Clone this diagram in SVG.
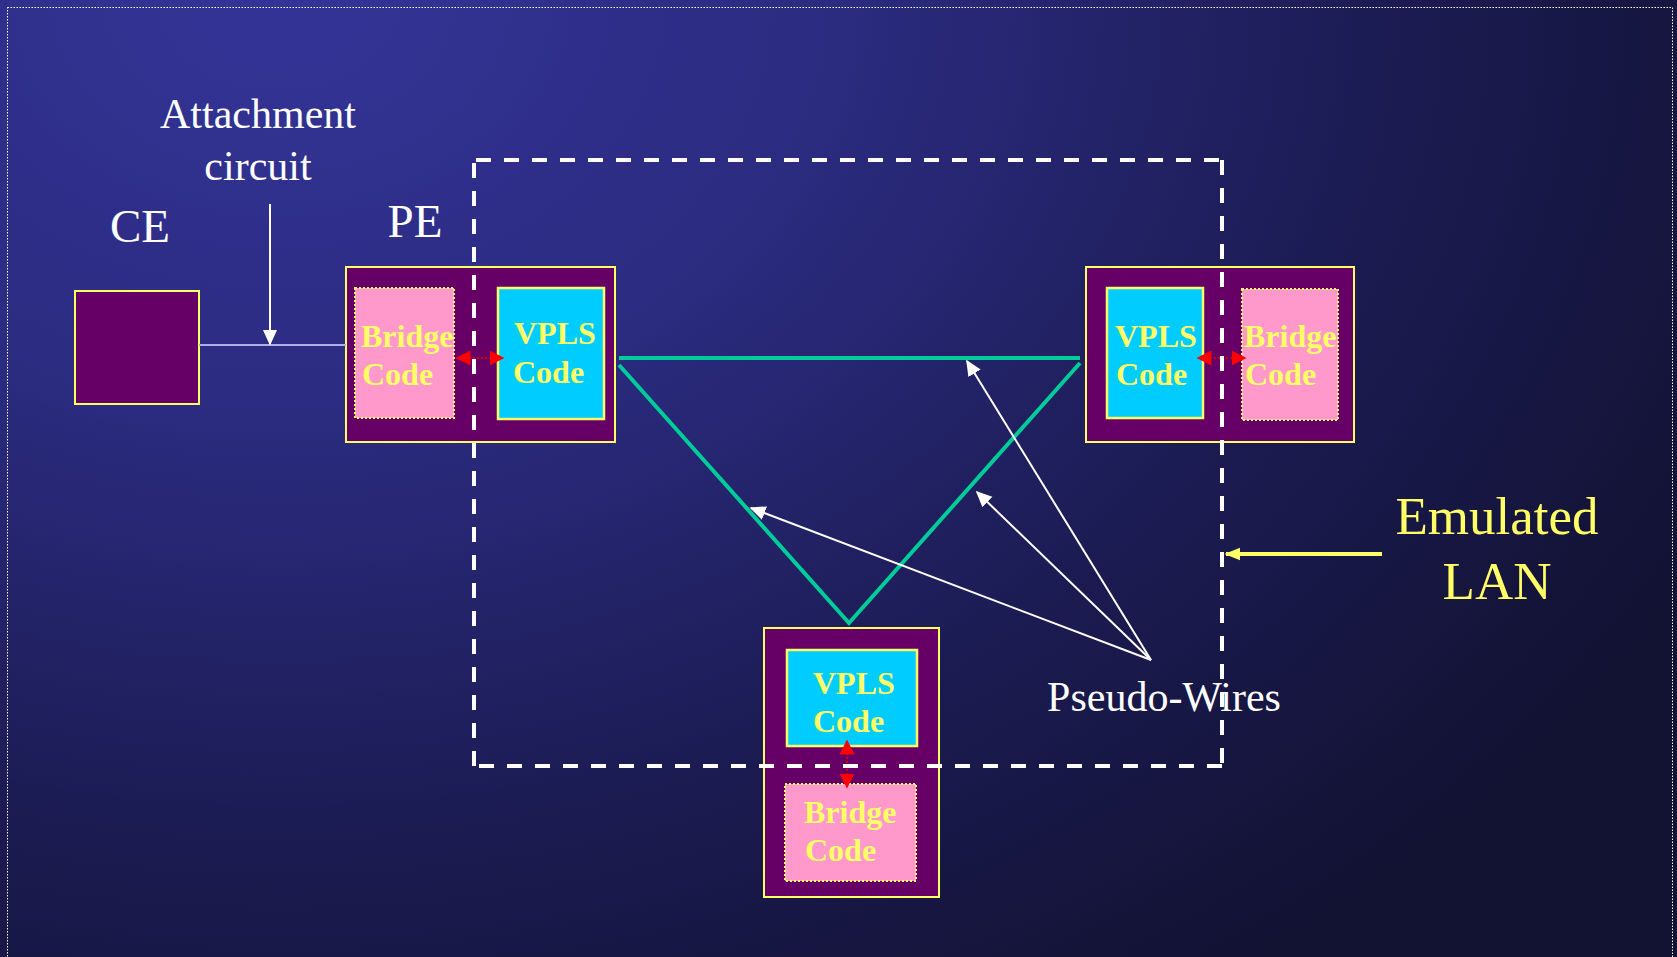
<svg xmlns="http://www.w3.org/2000/svg" width="1677" height="957" viewBox="0 0 1677 957">
<defs>
<radialGradient id="bg" gradientUnits="userSpaceOnUse" cx="280" cy="0" r="1600" gradientTransform="translate(280 0) scale(1 0.75) translate(-280 0)">
<stop offset="0" stop-color="#343498"/>
<stop offset="0.35" stop-color="#2b2b80"/>
<stop offset="0.7" stop-color="#1b1b52"/>
<stop offset="1" stop-color="#121233"/>
</radialGradient>
<marker id="aw" viewBox="0 0 10 10" refX="9" refY="5" markerWidth="16" markerHeight="16" markerUnits="userSpaceOnUse" orient="auto">
<path d="M0,0.5 L10,5 L0,9.5 Z" fill="#ffffff"/>
</marker>
<marker id="ay" viewBox="0 0 10 10" refX="9" refY="5" markerWidth="16" markerHeight="16" markerUnits="userSpaceOnUse" orient="auto">
<path d="M0,1 L10,5 L0,9 Z" fill="#ffff66"/>
</marker>
<marker id="ar" viewBox="0 0 10 10" refX="9" refY="5" markerWidth="15" markerHeight="15" markerUnits="userSpaceOnUse" orient="auto-start-reverse">
<path d="M0,0 L10,5 L0,10 Z" fill="#ff0000"/>
</marker>
<style>
.outer{fill:#660066;stroke:#ffff66;stroke-width:2}
.vpls{fill:#00ccff;stroke:#ffff66;stroke-width:2.5}
.bridge{fill:#ff99cc;stroke:#ffff66;stroke-width:2;stroke-dasharray:2 2}
.bt{font-family:"Liberation Serif","Times New Roman",serif;font-weight:bold;font-size:32px;fill:#ffff66}
.wt{font-family:"Liberation Serif","Times New Roman",serif;fill:#ffffff}
.yt{font-family:"Liberation Serif","Times New Roman",serif;fill:#ffff66;font-size:53px}
.pw{stroke:#00cc99;stroke-width:4;fill:none}
.red{stroke:#cc0000;stroke-width:2;stroke-dasharray:2 2;fill:none}
.dash{stroke:#ffffff;stroke-width:4;stroke-dasharray:15 13;fill:none}
</style>
</defs>
<rect width="1677" height="957" fill="url(#bg)"/>
<rect x="7.5" y="7.5" width="1665" height="980" fill="none" stroke="#ffffff" stroke-width="1" stroke-dasharray="1.5 1.5"/>

<g id="labels">
<text class="wt" x="258" y="128" font-size="42" text-anchor="middle">Attachment</text>
<text class="wt" x="258" y="180" font-size="42" text-anchor="middle">circuit</text>
<text class="wt" x="140" y="242" font-size="47" text-anchor="middle">CE</text>
<text class="wt" x="415" y="237" font-size="47" text-anchor="middle">PE</text>
<text class="wt" x="1164" y="711" font-size="42" text-anchor="middle">Pseudo-Wires</text>
<text class="yt" x="1497" y="534" text-anchor="middle">Emulated</text>
<text class="yt" x="1497" y="599" text-anchor="middle">LAN</text>
</g>

<g id="ce">
<rect class="outer" x="75" y="291" width="124" height="113"/>
</g>

<g id="pe1">
<rect class="outer" x="346" y="267" width="269" height="175"/>
<rect class="bridge" x="355" y="288" width="99" height="130"/>
<text class="bt" x="361" y="347">Bridge</text>
<text class="bt" x="362" y="385">Code</text>
<rect class="vpls" x="498" y="288" width="106" height="131"/>
<text class="bt" x="514" y="344">VPLS</text>
<text class="bt" x="513" y="383">Code</text>
</g>

<g id="pe2">
<rect class="outer" x="1086" y="267" width="268" height="175"/>
<rect class="vpls" x="1107" y="288" width="96" height="130"/>
<text class="bt" x="1115" y="347">VPLS</text>
<text class="bt" x="1116" y="385">Code</text>
<rect class="bridge" x="1242" y="289" width="96" height="131"/>
<text class="bt" x="1244" y="347">Bridge</text>
<text class="bt" x="1245" y="385">Code</text>
</g>

<g id="pe3">
<rect class="outer" x="764" y="628" width="175" height="269"/>
<rect class="vpls" x="787" y="650" width="130" height="96"/>
<text class="bt" x="813" y="694">VPLS</text>
<text class="bt" x="813" y="732">Code</text>
<rect class="bridge" x="785" y="784" width="131" height="97"/>
<text class="bt" x="804" y="823">Bridge</text>
<text class="bt" x="805" y="861">Code</text>
</g>

<g id="connectors">
<line x1="199" y1="345" x2="346" y2="345" stroke="#b0b0e8" stroke-width="2"/>
<line x1="270" y1="204" x2="270" y2="344" stroke="#ffffff" stroke-width="2" marker-end="url(#aw)"/>
<line class="red" x1="457" y1="358" x2="503" y2="358" marker-start="url(#ar)" marker-end="url(#ar)"/>
<line class="red" x1="1198" y1="358" x2="1245" y2="358" marker-start="url(#ar)" marker-end="url(#ar)"/>
<line class="red" x1="847" y1="741" x2="847" y2="787" marker-start="url(#ar)" marker-end="url(#ar)"/>
<line class="pw" x1="619" y1="358" x2="1080" y2="358"/>
<polyline class="pw" points="619,365 849,623 1080,363"/>
<line x1="1151" y1="660" x2="967" y2="361" stroke="#ffffff" stroke-width="2" marker-end="url(#aw)"/>
<line x1="1151" y1="660" x2="977" y2="492" stroke="#ffffff" stroke-width="2" marker-end="url(#aw)"/>
<line x1="1151" y1="660" x2="751" y2="508" stroke="#ffffff" stroke-width="2" marker-end="url(#aw)"/>
<line x1="1382" y1="554" x2="1226" y2="554" stroke="#ffff66" stroke-width="4" marker-end="url(#ay)"/>
</g>

<g id="emulated-lan">
<line class="dash" x1="476" y1="160" x2="1222" y2="160"/>
<line class="dash" x1="1222" y1="160" x2="1222" y2="766"/>
<line class="dash" x1="1222" y1="766" x2="474" y2="766"/>
<line class="dash" x1="474" y1="766" x2="474" y2="160"/>
</g>
</svg>
